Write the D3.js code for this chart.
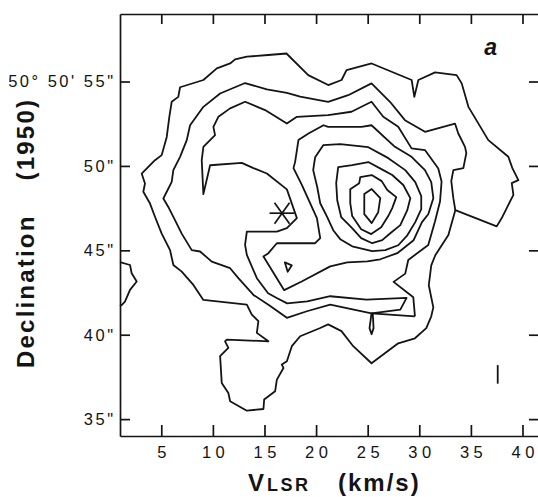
<!DOCTYPE html>
<html>
<head>
<meta charset="utf-8">
<title>VLSR - Declination contour map</title>
<script src="https://cdn.jsdelivr.net/npm/d3@7"></script>
<style>
  body { margin: 0; background: #fff; }
  #graph svg { display: block; }
  .contour { fill: none; stroke: #141414; stroke-width: 1.8; stroke-linejoin: round; }
  .axis path, .axis line { stroke: #141414; stroke-width: 1.7; }
  .axis text, .title { font-family: "Liberation Sans", Arial, Helvetica, sans-serif; fill: #141414; }
</style>
</head>
<body>
<div id="graph"></div>
<script>
// points are [V_LSR (km/s), declination (arcsec past 50° 50')]
const xTicks = [5, 10, 15, 20, 25, 30, 35, 40];
const yTicks = [35, 40, 45, 50, 55];
const yTickLabels = ['35"', '40"', '45"', '50"', '50° 50\' 55"'];

// outermost contour, incl. the southern lobe
const contourA = [
  [13.29,56.47],[15.36,56.57],[17.13,56.66],[19.24,55.38],[21.18,54.79],[22.47,55.09],[22.95,55.68],
  [25.38,56.07],[29.26,55.09],[29.52,54.09],[29.91,55.09],[31.53,55.54],[33.62,55.38],[34.11,54.89],
  [34.76,53.50],[36.69,51.53],[38.63,50.54],[39.02,49.87],[39.60,49.16],[38.96,48.98],[39.12,48.29],
  [38.63,47.69],[37.99,46.91],[37.50,46.42],[33.49,47.38],[32.82,45.91],[31.55,44.71],[31.16,44.11],
  [30.92,42.93],[31.36,41.62],[31.16,41.09],[30.68,40.39],[29.58,39.79],[27.96,39.49],[25.37,38.31],
  [23.60,39.32],[22.46,40.21],[21.17,40.61],[20.40,40.40],[18.46,39.91],[17.65,39.32],[17.17,38.43],
  [16.68,38.23],[16.84,38.03],[16.20,37.34],[16.03,36.65],[14.97,36.16],[14.90,35.60],[13.29,35.50],
  [11.67,36.06],[11.50,36.55],[10.86,37.14],[10.70,38.73],[11.50,39.22],[11.18,39.61],[11.35,39.71],
  [15.38,39.61],[14.26,40.11],[14.41,40.80],[13.77,41.19],[13.29,41.78],[9.08,42.06],[8.11,42.95],
  [6.98,43.74],[6.17,44.13],[5.85,45.01],[5.04,45.99],[4.39,46.99],[3.91,47.77],[3.26,48.47],
  [3.42,48.96],[3.10,49.55],[4.39,50.34],[5.04,50.64],[5.53,51.72],[5.78,52.91],[6.01,53.80],
  [6.65,54.09],[6.82,54.66],[9.08,55.09],[10.38,55.78],[11.67,56.07],[12.15,56.31]
];

const contourB = [
  [33.49,47.38],[33.30,48.09],[33.10,49.10],[33.30,49.75],[34.27,49.87],[34.56,50.76],[34.43,51.13],
  [33.78,51.92],[33.46,52.51],[30.55,52.02],[28.61,52.71],[27.16,53.80],[25.37,54.89],[23.11,54.19],
  [21.17,53.80],[18.46,54.10],[17.17,54.33],[15.23,54.53],[13.12,54.91],[10.70,54.29],[9.08,53.50],
  [7.79,52.41],[7.47,51.53],[6.82,50.54],[6.17,49.75],[6.01,49.06],[5.20,48.07],[5.68,47.57],
  [6.33,46.79],[6.98,45.99],[7.95,45.01],[8.76,44.93],[9.89,44.33],[11.67,43.94],[12.47,43.35],
  [13.93,42.36],[15.38,41.78],[17.17,41.00],[19.11,41.39],[21.37,41.78],[25.37,41.27],[29.58,41.09]
];

const contourC = [
  [29.58,41.09],[29.42,42.22],[27.51,43.13],[28.64,43.62],[28.93,44.43],[30.87,45.32],[31.52,46.71],
  [32.01,47.89],[32.16,49.08],[31.84,49.85],[30.55,50.94],[29.25,51.04],[27.96,52.32],[26.51,52.91],
  [25.37,53.80],[23.43,53.21],[21.17,53.01],[18.14,52.91],[17.17,52.51],[15.06,53.31],[13.12,53.80],
  [11.67,53.41],[10.53,52.91],[10.05,52.31],[10.21,51.82],[9.08,51.13],[8.92,50.34],[9.08,48.33],
  [9.73,50.04],[12.80,50.18],[13.93,49.87],[15.23,49.55],[17.17,48.61],[18.14,46.91],[17.17,46.31],
  [16.20,46.11],[13.29,46.11],[13.12,45.32],[13.29,44.73],[14.26,43.35],[15.35,42.46],[16.23,42.16],
  [17.20,41.86],[19.14,41.98],[21.37,42.28],[24.89,42.08],[28.77,42.18],[28.16,41.49],[25.37,41.27]
];

const contourD = [
  [21.17,52.31],[24.40,52.31],[25.37,52.41],[27.64,51.13],[29.25,50.54],[30.55,49.75],[31.16,49.04],
  [31.36,48.09],[30.87,47.14],[30.26,46.67],[29.45,45.60],[27.87,44.83],[26.22,44.47],[24.96,44.35],
  [23.02,44.29],[21.37,44.05],[18.65,43.17],[16.91,42.64],[14.90,44.63],[15.38,44.83],[16.20,45.42],
  [19.91,45.42],[20.40,45.72],[20.08,46.91],[18.62,48.88],[17.81,49.87],[17.97,50.24],[18.29,51.53],
  [19.26,51.92],[20.72,52.41]
];

const contourE = [
  [19.72,49.75],[19.91,50.52],[20.69,51.23],[22.34,51.29],[25.06,51.11],[27.00,50.46],[28.64,49.75],
  [29.61,49.04],[30.19,48.21],[30.19,47.44],[29.61,46.67],[28.84,45.89],[27.96,45.30],[26.70,45.01],
  [25.44,44.95],[23.50,45.24],[22.34,45.66],[21.66,46.19],[21.08,46.97],[20.40,47.79],[20.11,48.75]
];

const contourF = [
  [22.14,49.93],[23.50,50.05],[25.06,50.23],[26.51,49.75],[27.38,49.46],[28.45,48.87],[29.13,48.09],
  [28.84,47.38],[28.16,46.49],[27.19,46.01],[26.41,45.60],[25.44,45.42],[24.37,45.72],[23.40,46.37],
  [22.43,46.97],[22.05,47.97],[21.95,48.98]
];

const contourG = [
  [24.28,49.34],[25.39,49.46],[26.36,49.10],[26.90,48.57],[27.77,48.15],[27.38,47.50],[26.99,47.03],
  [26.31,46.37],[25.34,45.96],[24.37,46.25],[23.50,47.03],[23.31,47.79],[23.31,48.62],[24.18,48.98]
];

const contourH = [
  [25.39,48.63],[26.22,48.09],[26.02,47.26],[25.39,46.61],[24.67,47.14],[24.67,48.33]
];

const contourEdge = [
  [1.00,44.30],[1.97,44.13],[2.13,43.64],[2.62,43.15],[1.97,42.66],[1.48,41.96],[1.16,41.76],[1.00,41.70]
];

const contourBlip = [[16.97,44.29],[17.65,44.11],[17.25,43.73]];
const contourDrop = [[25.37,41.27],[25.18,40.39],[25.38,40.03],[25.57,40.39],[25.49,41.27]];

const starPoint = [16.7, 47.2];
const resolutionBar = [[37.6,37.1],[37.6,38.2]];

let width = 538,
    height = 497;

let svg = d3.select("#graph")
      .append("svg")
      .attr("width", width)
      .attr("height", height);

let x = d3.scaleLinear().domain([1, 41.6]).range([120, 539]),
    y = d3.scaleLinear().domain([34, 59]).range([436, 14]);

let openLine = d3.line()
    .x(function(d) { return x(d[0]); })
    .y(function(d) { return y(d[1]); });

let closedLine = d3.line()
    .x(function(d) { return x(d[0]); })
    .y(function(d) { return y(d[1]); })
    .curve(d3.curveLinearClosed);

const openContours = [contourB, contourC, contourEdge, resolutionBar];
const closedContours = [contourA, contourD, contourE, contourF, contourG, contourH, contourBlip, contourDrop];

svg.append("g")
      .selectAll("path")
      .data(closedContours)
      .enter().append("path")
      .attr("class", "contour")
      .attr("d", closedLine);

svg.append("g")
      .selectAll("path")
      .data(openContours)
      .enter().append("path")
      .attr("class", "contour")
      .attr("d", openLine);

// the source position marker
let star = svg.append("g")
      .attr("transform", "translate(" + x(starPoint[0]) + "," + y(starPoint[1]) + ")");

star.selectAll("line")
      .data([[-12.5, 0, 12.5, 0], [-7.5, -10.5, 7.5, 10.5], [7.5, -10.5, -7.5, 10.5]])
      .enter().append("line")
      .attr("x1", d => d[0]).attr("y1", d => d[1])
      .attr("x2", d => d[2]).attr("y2", d => d[3])
      .attr("stroke", "#141414")
      .attr("stroke-width", 1.7);

// axes, ticks pointing inward on all four sides
let bottomAxis = d3.axisBottom(x).tickValues(xTicks).tickSize(-11).tickSizeOuter(0).tickPadding(10),
    topAxis = d3.axisTop(x).tickValues(xTicks).tickSize(-10).tickSizeOuter(0).tickFormat(""),
    leftAxis = d3.axisLeft(y).tickValues(yTicks).tickSize(-10).tickSizeOuter(0).tickPadding(4.5)
      .tickFormat(function(d) { return yTickLabels[yTicks.indexOf(d)]; }),
    rightAxis = d3.axisRight(y).tickValues(yTicks).tickSize(-10).tickSizeOuter(0).tickFormat("");

svg.append("g")
      .attr("class", "axis")
      .attr("transform", "translate(0,436)")
      .call(bottomAxis)
      .selectAll("text")
      .attr("font-size", 16.5)
      .attr("letter-spacing", 4.5)
      .attr("dx", 2.2);

svg.append("g")
      .attr("class", "axis")
      .attr("transform", "translate(0,14)")
      .call(topAxis);

svg.append("g")
      .attr("class", "axis")
      .attr("transform", "translate(120,0)")
      .call(leftAxis)
      .selectAll("text")
      .attr("font-size", 16.5)
      .attr("letter-spacing", 2.5);

svg.append("g")
      .attr("class", "axis")
      .attr("transform", "translate(539,0)")
      .call(rightAxis);

// axis titles
let xTitle = svg.append("text")
      .attr("class", "title")
      .attr("x", 248)
      .attr("y", 491)
      .attr("font-weight", "bold");

xTitle.append("tspan").attr("font-size", 24).text("V");
xTitle.append("tspan").attr("font-size", 18).attr("dx", 3).attr("letter-spacing", 2.5).text("LSR");
xTitle.append("tspan").attr("font-size", 24).attr("x", 338).attr("letter-spacing", 2).text("(km/s)");

let yTitle = svg.append("text")
      .attr("class", "title")
      .attr("transform", "translate(34,368) rotate(-90)")
      .attr("font-weight", "bold")
      .attr("font-size", 24)
      .attr("letter-spacing", 2.2);

yTitle.append("tspan").text("Declination");
yTitle.append("tspan").attr("dx", 34).text("(1950)");

svg.append("text")
      .attr("class", "title")
      .attr("x", x(36.3))
      .attr("y", y(56.56))
      .attr("font-size", 23)
      .attr("font-weight", "bold")
      .attr("font-style", "italic")
      .text("a");
</script>
</body>
</html>
